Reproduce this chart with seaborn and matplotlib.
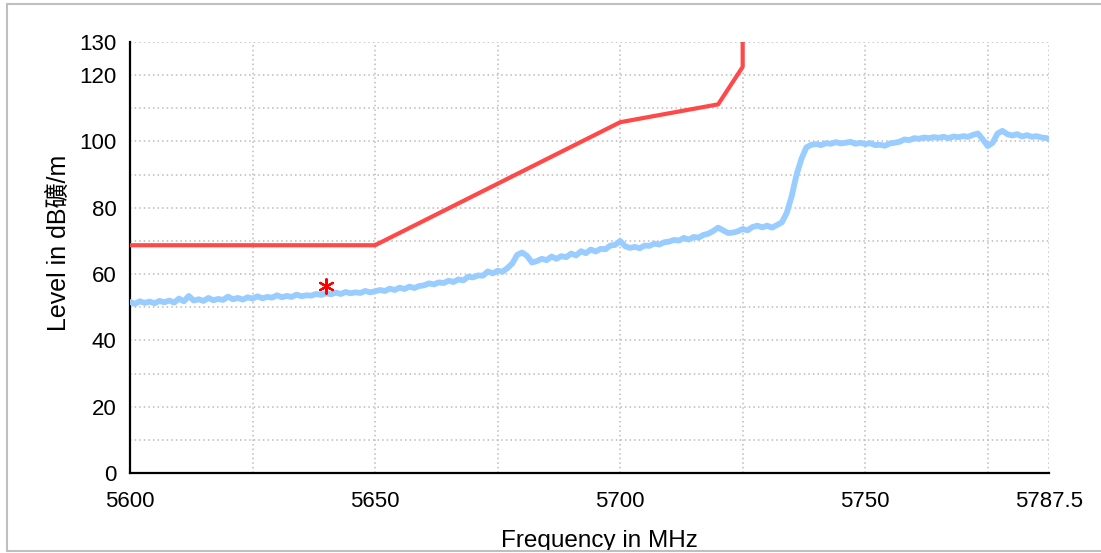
import matplotlib
matplotlib.use("Agg")
import matplotlib.pyplot as plt
import numpy as np
import pandas as pd
import seaborn as sns
from matplotlib.lines import Line2D

freq_meas = list(range(5600, 5788)) + [5787.5]
level_meas = [
    51.6, 51.0, 51.8, 51.3, 51.7, 51.2, 51.9, 51.5, 52.0, 51.4,
    52.6, 51.8, 53.4, 52.0, 52.4, 51.9, 52.8, 52.1, 52.5, 52.2,
    53.2, 52.4, 52.8, 52.3, 53.0, 52.6, 53.3, 52.7, 53.1, 52.9,
    53.6, 53.0, 53.4, 53.1, 53.8, 53.3, 53.6, 53.5, 54.0, 53.7,
    54.2, 53.9, 54.4, 54.0, 54.6, 54.2, 54.5, 54.3, 54.9, 54.5,
    54.8, 55.2, 54.9, 55.6, 55.2, 55.9, 55.5, 56.2, 55.8, 56.4,
    56.6, 57.2, 56.9, 57.5, 57.3, 58.0, 57.6, 58.4, 58.1, 59.2,
    59.0, 59.6, 59.5, 60.8, 60.2, 61.0, 60.7, 61.8, 63.2, 65.8,
    66.5, 65.5, 63.5, 63.9, 64.6, 64.2, 65.3, 64.6, 65.4, 65.1,
    66.2, 65.6, 66.9, 66.3, 67.4, 66.8, 67.6, 67.5, 68.6, 68.8,
    70.0, 68.4, 67.9, 68.2, 67.8, 68.6, 68.5, 69.2, 68.9, 69.6,
    69.8, 70.3, 70.1, 70.9, 70.4, 71.2, 71.0, 71.8, 72.2, 73.0,
    74.0, 73.2, 72.4, 72.5, 72.9, 73.6, 73.2, 74.2, 74.6, 74.1,
    74.6, 74.0, 74.8, 75.6, 78.5, 83.5, 90.0, 94.8, 98.2, 99.0,
    99.2, 98.9, 99.5, 99.3, 99.8, 99.4, 99.6, 99.9, 99.3, 99.6,
    99.2, 99.5, 98.9, 99.0, 98.7, 99.4, 99.6, 99.9, 100.6, 100.4,
    101.0, 100.8, 101.2, 101.0, 101.3, 101.1, 101.4, 101.0, 101.5, 101.3,
    101.6, 101.4, 102.0, 102.4, 100.6, 98.6, 99.6, 102.4, 103.2, 102.2,
    101.8, 102.2, 101.5, 101.9, 101.4, 101.6, 101.2, 101.0,
    100.8,
]

# limit line
freq_limit = [5600, 5650, 5700, 5720, 5725, 5725]
level_limit = [68.7, 68.7, 105.8, 111.2, 122.5, 135]

# marker
freq_peak = [5640]
level_peak = [56.4]

x_ticks = [5600, 5625, 5650, 5675, 5700, 5725, 5750, 5775, 5787.5]
x_labels = ["5600", "", "5650", "", "5700", "", "5750", "", "5787.5"]
y_ticks = list(range(0, 131, 10))
y_labels = ["0", "", "20", "", "40", "", "60", "", "80", "", "100", "", "120", "130"]

df_meas = pd.DataFrame({"freq": freq_meas, "level": level_meas})
df_limit = pd.DataFrame({"freq": freq_limit, "level": level_limit})
df_peak = pd.DataFrame({"freq": freq_peak, "level": level_peak})

sns.set_style("white")
plt.rcParams["font.family"] = ["Liberation Sans", "Noto Sans CJK SC", "DejaVu Sans"]
plt.rcParams["text.color"] = "black"
plt.rcParams["axes.labelcolor"] = "black"
plt.rcParams["xtick.color"] = "black"
plt.rcParams["ytick.color"] = "black"

fig = plt.figure(figsize=(11.01, 5.53), dpi=100)
ax = fig.add_axes([130 / 1101, 1 - 473 / 553, 919 / 1101, 431 / 553])

sns.lineplot(data=df_meas, x="freq", y="level", color="#99CCFF", linewidth=4.2,
             estimator=None, sort=False, ax=ax, zorder=3)
sns.lineplot(data=df_limit, x="freq", y="level", color="#FF4848", linewidth=3.0,
             estimator=None, sort=False, ax=ax, zorder=4)
sns.scatterplot(data=df_peak, x="freq", y="level", marker=(6, 2, 0), s=110,
                color="red", linewidth=1.6, ax=ax, zorder=5)

ax.set_xlim(5600, 5787.5)
ax.set_ylim(0, 130)
ax.set_xticks(x_ticks)
ax.set_xticklabels(x_labels)
ax.set_yticks(y_ticks)
ax.set_yticklabels(y_labels)
ax.grid(True, color="#BBBBBB", linestyle=(0, (1, 2)), linewidth=1.1)
ax.set_axisbelow(True)

for s in ["top", "right"]:
    ax.spines[s].set_visible(False)
for s in ["left", "bottom"]:
    ax.spines[s].set_color("black")
    ax.spines[s].set_linewidth(1.6)

ax.tick_params(axis="both", direction="inout", length=9.5, width=1.4, color="black",
               labelsize=16, labelcolor="black")
ax.tick_params(axis="x", pad=8)
ax.tick_params(axis="y", pad=5)

ax.set_xlabel("Frequency in MHz", fontsize=17.5)
ax.set_ylabel("Level in dB礦/m", fontsize=18)
ax.xaxis.set_label_coords(0.511, -0.133)
ax.yaxis.set_label_coords(-0.064, 0.535)
ax.xaxis.label.set_va("top")

# outer frame of the screenshot (left, top, bottom edges)
frame_kw = dict(transform=fig.transFigure, color="#BFBFBF", linewidth=1.5)
fig.lines.append(Line2D([7 / 1101, 7 / 1101], [2 / 553, 549 / 553], **frame_kw))
fig.lines.append(Line2D([7 / 1101, 1.0], [549 / 553, 549 / 553], **frame_kw))
fig.lines.append(Line2D([7 / 1101, 1.0], [2 / 553, 2 / 553], **frame_kw))

fig.savefig("out.png", dpi=100, facecolor="white")
